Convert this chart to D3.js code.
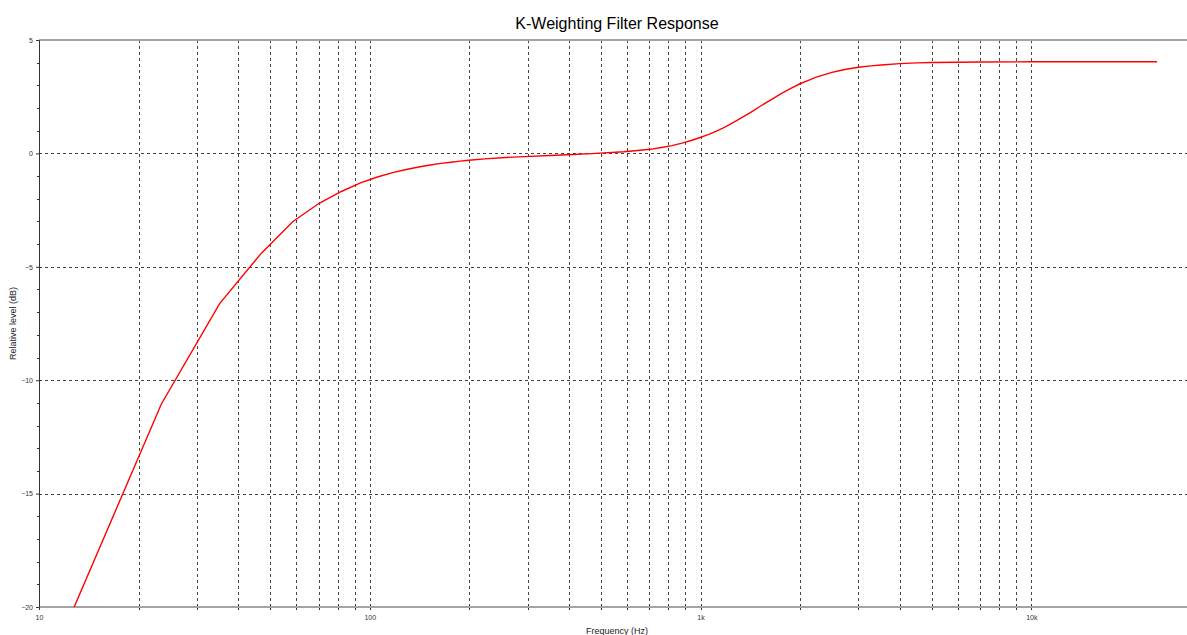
<!DOCTYPE html>
<html>
<head>
<meta charset="utf-8">
<script src="https://cdn.jsdelivr.net/npm/d3@7"></script>
<style>
  html, body { margin: 0; padding: 0; background: #ffffff; }
  svg { display: block; font-family: "Liberation Sans", Arial, sans-serif; }
</style>
</head>
<body>
<svg id="chart" width="1187" height="635"></svg>
<script>
// ---- data ----
const chartTitle = "K-Weighting Filter Response";
const xLabel = "Frequency (Hz)";
const yLabel = "Relative level (dB)";

const freqHz = [11.72, 23.44, 35.16, 46.88, 58.59, 70.31, 82.03, 93.75, 105.47, 117.19,
  128.91, 140.63, 152.34, 164.06, 175.78, 187.5, 199.22, 222.66, 257.81, 292.97,
  351.56, 410.16, 468.75, 585.94, 644.53, 703.13, 761.72, 820.31, 878.91, 937.5,
  996.09, 1054.69, 1113.28, 1171.88, 1230.47, 1289.06, 1347.66, 1406.25, 1464.84, 1523.44,
  1640.63, 1757.81, 1875.0, 1992.19, 2109.38, 2226.56, 2343.75, 2496.09, 2625.0, 2753.91,
  3000.0, 3281.25, 3515.63, 3996.09, 4500.0, 5003.91, 6000.0, 7000.0, 10000.0, 15000.0,
  24000.0];
const levelDb = [-21.27, -11.05, -6.62, -4.42, -3.0, -2.2, -1.68, -1.3, -1.04, -0.85,
  -0.71, -0.6, -0.51, -0.44, -0.39, -0.34, -0.3, -0.24, -0.18, -0.14,
  -0.09, -0.05, -0.01, 0.07, 0.125, 0.18, 0.26, 0.34, 0.45, 0.57,
  0.7, 0.83, 0.975, 1.13, 1.29, 1.455, 1.62, 1.78, 1.94, 2.1,
  2.385, 2.65, 2.87, 3.06, 3.21, 3.35, 3.45, 3.57, 3.645, 3.71,
  3.8, 3.86, 3.9, 3.96, 3.99, 4.01, 4.02, 4.03, 4.04, 4.04,
  4.04];

const xGridTicks = [20, 30, 40, 50, 60, 70, 80, 90, 100, 200, 300, 400, 500, 600, 700, 800, 900,
  1000, 2000, 3000, 4000, 5000, 6000, 7000, 8000, 9000, 10000];
const xLabelTicks = [10, 100, 1000, 10000];
const xTickText = ["10", "100", "1k", "10k"];
const yMajorTicks = [5, 0, -5, -10, -15, -20];
const yMinorTicks = [4, 3, 2, 1, -1, -2, -3, -4, -6, -7, -8, -9, -11, -12, -13, -14, -16, -17, -18, -19];
const xDomain = [10, 31250];
const yDomain = [-20, 5];

// ---- layout ----
const W = 1187, H = 635;
const mLeft = 39, mTop = 40, mRight = 1195, mBottom = 607;

const svg = d3.select("#chart");
const x = d3.scaleLog().domain(xDomain).range([mLeft, mRight]);
const y = d3.scaleLinear().domain(yDomain).range([mBottom, mTop]);

svg.append("defs").append("clipPath").attr("id", "plotclip")
  .append("rect").attr("x", mLeft).attr("y", mTop).attr("width", mRight - mLeft).attr("height", mBottom - mTop);

// title
svg.append("text").attr("x", (mLeft + mRight) / 2).attr("y", 29)
  .attr("text-anchor", "middle").attr("font-size", 16).attr("fill", "#000")
  .text(chartTitle);

// vertical grid
svg.append("g").selectAll("line").data(xGridTicks).join("line")
  .attr("x1", d => Math.round(x(d)) + 0.5).attr("x2", d => Math.round(x(d)) + 0.5)
  .attr("y1", mTop).attr("y2", mBottom)
  .attr("stroke", "#444").attr("stroke-width", 1).attr("stroke-dasharray", "3,3");

// horizontal grid
svg.append("g").selectAll("line").data(yMajorTicks.filter(d => d !== 5 && d !== -20)).join("line")
  .attr("x1", mLeft).attr("x2", mRight)
  .attr("y1", d => Math.round(y(d)) + 0.5).attr("y2", d => Math.round(y(d)) + 0.5)
  .attr("stroke", "#444").attr("stroke-width", 1).attr("stroke-dasharray", "3,3");

// top border
svg.append("line").attr("x1", mLeft).attr("x2", mRight).attr("y1", mTop).attr("y2", mTop)
  .attr("stroke", "#a3a3a3").attr("stroke-width", 2);

// x axis
const xAxis = d3.axisBottom(x).tickValues(xGridTicks.concat([10])).tickSize(0)
  .tickFormat(d => { const i = xLabelTicks.indexOf(d); return i >= 0 ? xTickText[i] : ""; });
const gx = svg.append("g").attr("transform", `translate(0,${mBottom})`).call(xAxis);
gx.select(".domain").remove();
gx.selectAll(".tick text").attr("font-size", 7).attr("fill", "#333").attr("dy", 0).attr("y", 13)
  .attr("font-family", "Liberation Sans, Arial, sans-serif");
gx.selectAll(".tick").append("line").attr("y1", -3).attr("y2", 3)
  .attr("stroke", "#333").attr("stroke-width", 1).attr("shape-rendering", "crispEdges");
svg.append("line").attr("x1", mLeft).attr("x2", W).attr("y1", mBottom).attr("y2", mBottom)
  .attr("stroke", "#a3a3a3").attr("stroke-width", 2);

// y axis
const yAxis = d3.axisLeft(y).tickValues(yMajorTicks).tickSize(3).tickPadding(3);
const gy = svg.append("g").attr("transform", `translate(${mLeft},0)`).call(yAxis);
gy.select(".domain").attr("stroke", "#333");
gy.selectAll(".tick line").attr("stroke", "#333");
gy.selectAll(".tick text").attr("font-size", 7).attr("fill", "#333")
  .attr("font-family", "Liberation Sans, Arial, sans-serif");
gy.append("g").selectAll("line").data(yMinorTicks).join("line")
  .attr("x1", -2).attr("x2", 0)
  .attr("y1", d => Math.round(y(d)) + 0.5).attr("y2", d => Math.round(y(d)) + 0.5)
  .attr("stroke", "#333");

// axis titles
svg.append("text").attr("x", (mLeft + mRight) / 2).attr("y", 634)
  .attr("text-anchor", "middle").attr("font-size", 9).attr("fill", "#222").text(xLabel);
svg.append("text").attr("transform", `translate(16,${(mTop + mBottom) / 2}) rotate(-90)`)
  .attr("text-anchor", "middle").attr("font-size", 9).attr("fill", "#222").text(yLabel);

// curve
const pts = freqHz.map((f, i) => [f, levelDb[i]]);
svg.append("path").datum(pts).attr("clip-path", "url(#plotclip)")
  .attr("fill", "none").attr("stroke", "#ff0000").attr("stroke-width", 1.4)
  .attr("d", d3.line().x(d => x(d[0])).y(d => y(d[1])));
</script>
</body>
</html>
